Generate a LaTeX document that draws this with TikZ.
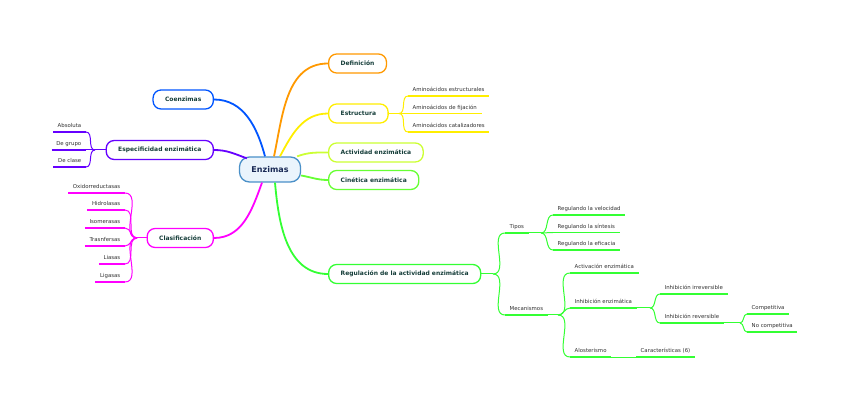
\documentclass[tikz,border=0pt]{standalone}
\usepackage{fontspec}
\setmainfont{DejaVu Sans}

\definecolor{enzline}{RGB}{74,144,200}
\definecolor{enzfill}{RGB}{234,244,252}
\definecolor{enztext}{RGB}{24,40,84}
\definecolor{topictext}{RGB}{22,62,58}
\definecolor{leaftext}{RGB}{50,50,50}
\definecolor{cDef}{RGB}{255,153,0}
\definecolor{cEst}{RGB}{255,238,0}
\definecolor{cAct}{RGB}{204,255,51}
\definecolor{cCin}{RGB}{102,255,51}
\definecolor{cReg}{RGB}{51,255,51}
\definecolor{cCoe}{RGB}{0,85,255}
\definecolor{cEsp}{RGB}{102,0,255}
\definecolor{cCla}{RGB}{255,0,255}

\tikzset{
  root/.style={draw=enzline, fill=enzfill, text=enztext, line width=1.3pt,
    rounded corners=10pt, minimum height=25pt, inner xsep=12pt,
    font=\fontsize{8}{9}\selectfont\bfseries},
  topic/.style={draw=#1, fill=white, text=topictext, line width=1.3pt,
    rounded corners=8pt, minimum height=19pt, inner xsep=12pt,
    font=\fontsize{6}{7}\selectfont\bfseries},
  trunk/.style={draw=#1, line width=1.8pt},
  twig/.style={draw=#1, line width=1pt},
  leaf/.style={text=leaftext, inner xsep=4.5pt, inner ysep=3pt,
    text height=4pt, text depth=1.2pt, font=\fontsize{5.4}{6}\selectfont,
    append after command={\pgfextra{\let\lastleaf\tikzlastnode}
      (\lastleaf.south west) edge[draw=#1, line width=1.8pt] (\lastleaf.south east)}},
}

\begin{document}
\begin{tikzpicture}[x=1pt, y=-1pt]
  \fill[white] (0,0) rectangle (848,419);
  \useasboundingbox (0,0) rectangle (848,419);

  % centre and main topics
  \node[root] (enz) at (270,169.5) {Enzimas};
  \node[topic=cDef, anchor=west] (def) at (328,63.5) {Definición};
  \node[topic=cEst, anchor=west] (est) at (328,113.5) {Estructura};
  \node[topic=cAct, anchor=west] (act) at (328,152.5) {Actividad enzimática};
  \node[topic=cCin, anchor=west] (cin) at (328,180) {Cinética enzimática};
  \node[topic=cReg, anchor=west] (reg) at (328,274) {Regulación de la actividad enzimática};
  \node[topic=cCoe, anchor=east] (coe) at (214,99.5) {Coenzimas};
  \node[topic=cEsp, anchor=east] (esp) at (214,150) {Especificidad enzimática};
  \node[topic=cCla, anchor=east] (cla) at (214,238) {Clasificación};

  \draw[trunk=cCoe] (coe.east) to[out=0, in=105] ([xshift=-5pt]enz.north);
  \draw[trunk=cDef] ([xshift=4pt]enz.north) to[out=78, in=180] (def.west);
  \draw[trunk=cEst] ([xshift=10pt]enz.north) to[out=62, in=180] (est.west);
  \draw[trunk=cAct] ([xshift=-4pt]enz.north east) to[out=20, in=180] (act.west);
  \draw[trunk=cCin] ([yshift=-6pt]enz.east) to[out=-10, in=180] (cin.west);
  \draw[trunk=cReg] ([xshift=5pt]enz.south) to[out=-85, in=180] (reg.west);
  \draw[trunk=cEsp] (esp.east) to[out=0, in=160] ([xshift=8pt,yshift=-2pt]enz.north west);
  \draw[trunk=cCla] (cla.east) to[out=0, in=-110] ([xshift=-8pt]enz.south);

  % Estructura
  \coordinate (jest) at (399,113.5);
  \node[leaf=cEst, anchor=south west] (aestr) at (408,96) {Aminoácidos estructurales};
  \node[leaf=cEst, anchor=south west] (afij) at (408,113.5) {Aminoácidos de fijación};
  \node[leaf=cEst, anchor=south west] (acat) at (408,132) {Aminoácidos catalizadores};
  \draw[twig=cEst] (est.east) -- (jest);
  \foreach \n in {aestr,afij,acat}
    \draw[twig=cEst] (jest) to[out=0, in=180] (\n.south west);

  % Especificidad
  \coordinate (jesp) at (95,150);
  \node[leaf=cEsp, anchor=south east] (abs) at (86,132) {Absoluta};
  \node[leaf=cEsp, anchor=south east] (grupo) at (86,150) {De grupo};
  \node[leaf=cEsp, anchor=south east] (clase) at (86,167) {De clase};
  \draw[twig=cEsp] (esp.west) -- (jesp);
  \foreach \n in {abs,grupo,clase}
    \draw[twig=cEsp] (jesp) to[out=180, in=0] (\n.south east);

  % Clasificacion
  \coordinate (jcla) at (137,238);
  \node[leaf=cCla, anchor=south east] (oxi) at (125,193) {Oxidorreductasas};
  \node[leaf=cCla, anchor=south east] (hid) at (125,210) {Hidrolasas};
  \node[leaf=cCla, anchor=south east] (iso) at (125,228) {Isomerasas};
  \node[leaf=cCla, anchor=south east] (tra) at (125,246) {Trasnfersas};
  \node[leaf=cCla, anchor=south east] (lia) at (125,264) {Liasas};
  \node[leaf=cCla, anchor=south east] (lig) at (125,282) {Ligasas};
  \draw[twig=cCla] (cla.west) -- (jcla);
  \foreach \n in {oxi,hid,iso,tra,lia,lig}
    \draw[twig=cCla] (jcla) to[out=180, in=0] (\n.south east);

  % Regulacion
  \coordinate (jreg) at (493,274);
  \node[leaf=cReg, anchor=south west] (tipos) at (505,233) {Tipos};
  \node[leaf=cReg, anchor=south west] (mec) at (505,315) {Mecanismos};
  \draw[twig=cReg] (reg.east) -- (jreg);
  \foreach \n in {tipos,mec}
    \draw[twig=cReg] (jreg) to[out=0, in=180] (\n.south west);

  \coordinate (jtip) at (541,233);
  \node[leaf=cReg, anchor=south west] (vel) at (553,215) {Regulando la velocidad};
  \node[leaf=cReg, anchor=south west] (sin) at (553,232.5) {Regulando la síntesis};
  \node[leaf=cReg, anchor=south west] (efi) at (553,250) {Regulando la eficacia};
  \draw[twig=cReg] (tipos.south east) -- (jtip);
  \foreach \n in {vel,sin,efi}
    \draw[twig=cReg] (jtip) to[out=0, in=180] (\n.south west);

  \coordinate (jmec) at (558,315);
  \node[leaf=cReg, anchor=south west] (activ) at (570,273) {Activación enzimática};
  \node[leaf=cReg, anchor=south west] (inhib) at (570,308) {Inhibición enzimática};
  \node[leaf=cReg, anchor=south west] (alo) at (570,357) {Alosterismo};
  \draw[twig=cReg] (mec.south east) -- (jmec);
  \foreach \n in {activ,inhib,alo}
    \draw[twig=cReg] (jmec) to[out=0, in=180] (\n.south west);

  \coordinate (jinh) at (650,308);
  \node[leaf=cReg, anchor=south west] (irrev) at (660,294) {Inhibición irreversible};
  \node[leaf=cReg, anchor=south west] (rev) at (660,323) {Inhibición reversible};
  \draw[twig=cReg] (inhib.south east) -- (jinh);
  \foreach \n in {irrev,rev}
    \draw[twig=cReg] (jinh) to[out=0, in=180] (\n.south west);

  \coordinate (jrev) at (740,323);
  \node[leaf=cReg, anchor=south west] (comp) at (747,314) {Competitiva};
  \node[leaf=cReg, anchor=south west] (nocomp) at (747,332) {No competitiva};
  \draw[twig=cReg] (rev.south east) -- (jrev);
  \foreach \n in {comp,nocomp}
    \draw[twig=cReg] (jrev) to[out=0, in=180] (\n.south west);

  \node[leaf=cReg, anchor=south west] (carac) at (636,357) {Características (6)};
  \draw[twig=cReg] (alo.south east) -- (carac.south west);
\end{tikzpicture}
\end{document}
